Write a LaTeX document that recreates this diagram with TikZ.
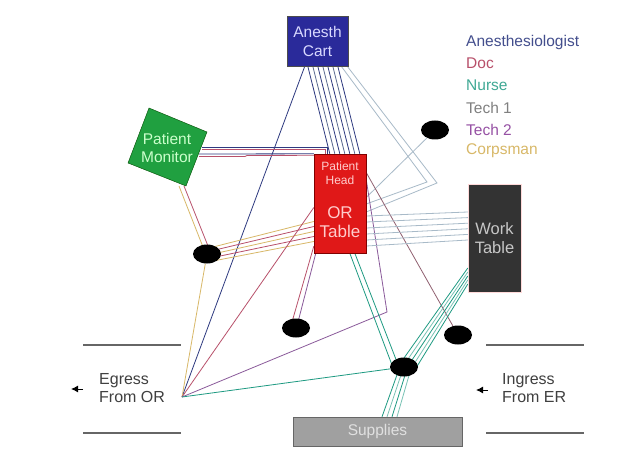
\documentclass[tikz,border=0pt]{standalone}
\usepackage{fontspec}
\setmainfont{Liberation Sans}
\usetikzlibrary{shapes.geometric,arrows.meta,calc}
\pgfdeclarelayer{bg}
\pgfsetlayers{bg,main}
\definecolor{an}{HTML}{2E3A80}
\definecolor{slate}{HTML}{5A6A90}
\definecolor{doc}{HTML}{B8506A}
\definecolor{nurse}{HTML}{1E9A82}
\definecolor{tone}{HTML}{A8BAC8}
\definecolor{ttwo}{HTML}{8A5A9A}
\definecolor{corp}{HTML}{D8B868}
\definecolor{docb}{HTML}{906070}
\definecolor{cartblue}{HTML}{2A2A9A}
\definecolor{orred}{HTML}{E01818}
\definecolor{mongreen}{HTML}{20A040}
\definecolor{workgray}{HTML}{333333}
\definecolor{supgray}{HTML}{A0A0A0}
\definecolor{lblgray}{HTML}{404040}
\tikzset{
  boxnode/.style={draw, rectangle, inner sep=0pt, align=center},
  dotnode/.style={ellipse, fill=black, minimum width=28pt, minimum height=19pt, inner sep=0pt},
  conn/.style={line width=0.8pt},
  wall/.style={line width=1.2pt, draw=lblgray!80},
  legend/.style={anchor=west, inner sep=0pt, font=\fontsize{15.5}{18}\selectfont},
  doorlbl/.style={anchor=west, inner sep=0pt, align=left, text=lblgray, font=\fontsize{16}{18}\selectfont},
  doorarrow/.style={line width=1pt, -{Latex[length=7pt,width=7pt]}}
}
\begin{document}
\begin{tikzpicture}[x=1pt,y=-1pt]
\useasboundingbox (0,0) rectangle (621,465);
\begin{pgfonlayer}{bg}
\fill[white] (0,0) rectangle (621,465);
\end{pgfonlayer}

% boxes
\node[boxnode, fill=cartblue, draw=black!70, minimum width=61pt, minimum height=50pt,
      text=blue!15!white, font=\fontsize{15.5}{19}\selectfont] (cart) at (317.5,41) {Anesth\\Cart};
\node[boxnode, fill=orred, draw=red!50!black, minimum width=52pt, minimum height=99pt] (ort) at (340,203.5) {};
\node[inner sep=0pt, align=center, text=red!20!white, font=\fontsize{12}{14}\selectfont] (head) at (340,173) {Patient\\Head};
\node[inner sep=0pt, align=center, text=red!20!white, font=\fontsize{17}{19}\selectfont] (ortxt) at (340,222.5) {OR\\Table};
\node[boxnode, fill=workgray, draw=red!15!white, minimum width=53pt, minimum height=108pt,
      text=black!22, font=\fontsize{16.5}{19}\selectfont] (work) at (494.5,238) {Work\\Table};
\node[boxnode, fill=supgray, draw=black!60, minimum width=169pt, minimum height=29pt,
      text=black!12, font=\fontsize{15.5}{18}\selectfont] (sup) at (377.5,431.5) {Supplies};
\coordinate (m1) at (149,108);
\coordinate (m2) at (207,132);
\coordinate (m3) at (186,186);
\coordinate (m4) at (128,163);
\fill[mongreen, draw=green!30!black] (m1) -- (m2) -- (m3) -- (m4) -- cycle;
\node[inner sep=0pt, align=center, text=green!20!white, font=\fontsize{15.5}{18}\selectfont] (mon) at (167,148) {Patient\\Monitor};

% dots
\node[dotnode] (d1) at (435,130) {};
\node[dotnode] (d2) at (207,254) {};
\node[dotnode] (d3) at (296,328) {};
\node[dotnode] (d4) at (458,335) {};
\node[dotnode] (d5) at (404,367) {};

% legend
\node[legend, text=an!90!white] (l1) at (466,42) {Anesthesiologist};
\node[legend, text=doc] (l2) at (466,63.5) {Doc};
\node[legend, text=nurse!85!white] (l3) at (466,85) {Nurse};
\node[legend, text=black!50] (l4) at (466,107.5) {Tech 1};
\node[legend, text=ttwo!90!magenta] (l5) at (466,129.5) {Tech 2};
\node[legend, text=corp] (l6) at (466,151) {Corpsman};

% doors
\node[doorlbl] (egr) at (99,388) {Egress\\From OR};
\node[doorlbl] (ing) at (502,388) {Ingress\\From ER};
\coordinate (eg) at (182,397);
\coordinate (ea) at (83,389);
\coordinate (eb) at (71,389);
\coordinate (ia) at (488,390);
\coordinate (ib) at (476,390);
\draw[doorarrow] (ea) -- (eb);
\draw[doorarrow] (ia) -- (ib);
\draw[wall] (83,345) -- (181,345);
\draw[wall] (83,433) -- (181,433);
\draw[wall] (486,345) -- (584,345);
\draw[wall] (486,433) -- (584,433);

\coordinate (v1) at (427,182);
\coordinate (v2) at (437,183);
\coordinate (k) at (387,312);

\begin{pgfonlayer}{bg}
% cart to patient head bundle
\foreach \i/\c in {0/an,1/slate,2/an,3/slate,4/an,5/slate,6/an}
  \draw[conn, \c] ($(cart.south west)+(21+5*\i,0)$) -- ($(ort.north west)+(16+5*\i,0)$);
% cart to egress
\draw[conn, an] ($(cart.south west)+(18,0)$) -- (eg);
% tech 1 loops
\draw[conn, tone] ($(cart.south east)+(-7,0)$) -- (v1) -- ($(ort.east)+(0,0.5)$);
\draw[conn, tone] ($(cart.south east)+(-1,0)$) -- (v2) -- ($(ort.east)+(0,8.5)$);
\draw[conn, tone] (d1) -- ($(ort.east)+(0,-6)$);
% monitor to OR table
\draw[conn, an] (202,147) -- (327,147) -- (327,154);
\draw[conn, doc] (202,149.5) -- (325,149.5) -- (325,154);
\draw[conn, an] (199,154) -- (ort.north west);
\draw[conn, doc] (199,156.5) -- (245,156.5) -- (247,155.5) -- ($(ort.north west)+(0,1.5)$);
% monitor to dot 2
\draw[conn, corp] (179,186) -- ($(d2)+(-4,-7)$);
\draw[conn, doc] (184,186) -- ($(d2)+(1,-8)$);
% dot 2 to OR table
\foreach \i/\c in {0/corp,1/doc,2/corp,3/doc,4/corp}
  \draw[conn, \c] ($(d2)+(6,-7+3.5*\i)$) -- ($(ort.west)+(0,18+5*\i)$);
% dot 2 to egress
\draw[conn, corp] (d2) -- (eg);
% OR table to egress
\draw[conn, doc] ($(ort.west)+(0,4)$) -- (eg);
% OR table to dot 3
\draw[conn, doc] ($(ort.south west)+(0,-7)$) -- ($(d3)+(-4,-6)$);
\draw[conn, ttwo] ($(ort.south west)+(2,0)$) -- ($(d3)+(2,-6)$);
% OR table via bend to egress
\draw[conn, ttwo] ($(ort.east)+(0,-24)$) -- (k) -- (eg);
% OR table to dot 4
\draw[conn, docb] ($(ort.east)+(0,-31)$) -- (d4);
% nurse: OR table to dot 5
\draw[conn, nurse] ($(ort.south west)+(36,0)$) -- ($(d5)+(-12,-2)$);
\draw[conn, nurse] ($(ort.south west)+(41,0)$) -- ($(d5)+(-7,-5)$);
% dot 5 to work table
\foreach \i/\c in {0/nurse,1/nurse!60!white,2/nurse,3/nurse!60!white,4/nurse}
  \draw[conn, \c] ($(d5)+(3*\i,-9+2.5*\i)$) -- ($(work.west)+(0,30+4*\i)$);
% dot 5 to supplies
\foreach \i/\c in {0/nurse,1/nurse!60!white,2/nurse,3/nurse!60!white}
  \draw[conn, \c] ($(d5)+(-6+4*\i,5)$) -- ($(sup.north)+(4.5+5*\i,0)$);
% dot 5 to egress
\draw[conn, nurse] (d5) -- (eg);
% OR table to work table
\foreach \i in {0,...,5}
  \draw[conn, tone] ($(ort.east)+(0,12.5+6*\i)$) -- ($(work.west)+(0,-26+5.6*\i)$);
\end{pgfonlayer}
\end{tikzpicture}
\end{document}
